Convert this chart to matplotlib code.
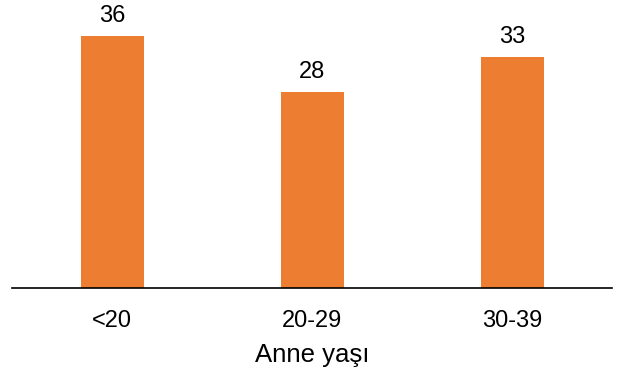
import numpy as np
import matplotlib.pyplot as plt

plt.rcParams['font.family'] = ['Liberation Sans', 'DejaVu Sans']

categories = ['<20', '20-29', '30-39']
values = [36, 28, 33]
bar_color = '#ED7D31'

fig = plt.figure(figsize=(6.18, 3.74), dpi=100)
ax = fig.add_axes([12 / 618, (374 - 288) / 374, 600 / 618, 288 / 374])

x = np.arange(len(categories))
bars = ax.bar(x, values, width=0.315, color=bar_color)
for xi, v in zip(x, values):
    ax.text(xi, v + 1.25, str(v), ha='center', va='bottom', fontsize=17)

ax.set_xlim(-0.5, 2.5)
ax.set_ylim(0, 41.1)
ax.set_xticks(x)
ax.set_xticklabels(categories, fontsize=17)
ax.tick_params(axis='x', length=0, pad=15.5)
ax.set_yticks([])
ax.set_xlabel('Anne yaşı', fontsize=18.5, labelpad=8.5)
for s in ['top', 'right', 'left']:
    ax.spines[s].set_visible(False)
ax.spines['bottom'].set_linewidth(1.2)
ax.spines['bottom'].set_color('black')

fig.savefig('out.png', dpi=100)
